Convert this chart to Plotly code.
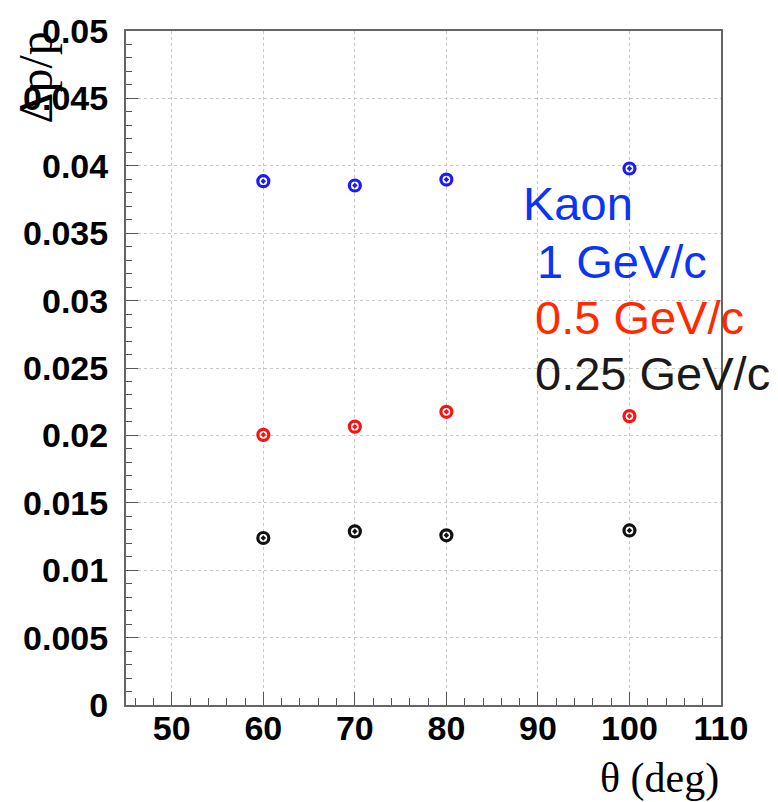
import plotly.graph_objects as go

theta = [60, 70, 80, 100]
dp_1gev = [0.03886, 0.03854, 0.03898, 0.0398]
dp_05gev = [0.02004, 0.02065, 0.02175, 0.02143]
dp_025gev = [0.01239, 0.01288, 0.01259, 0.01295]

series = [
    ("1 GeV/c", dp_1gev, "#1a1aff"),
    ("0.5 GeV/c", dp_05gev, "#ff1010"),
    ("0.25 GeV/c", dp_025gev, "#111111"),
]

W, H = 778, 802
L, R, T, B = 126, 57, 23, 97
PW, PH = W - L - R, H - T - B

def px(x):
    return (x - L) / PW

def py(y):
    return (H - B - y) / PH

fig = go.Figure()
for name, vals, col in series:
    fig.add_trace(go.Scatter(
        x=theta, y=vals, mode="markers", name=name,
        marker=dict(symbol="circle-open-dot", size=11, color=col,
                    line=dict(width=3.2, color=col)),
        showlegend=False,
    ))

axis_common = dict(
    showline=True, linecolor="#666666", linewidth=2, mirror=True,
    ticks="inside", tickcolor="#555555", tickwidth=1,
    showgrid=True, gridcolor="#c8c8c8", griddash="dot", gridwidth=1,
    zeroline=False,
    tickfont=dict(family="Liberation Sans", size=34, color="#000000", weight="bold"),
)

fig.update_xaxes(range=[45, 110], dtick=10, tick0=50, ticklen=13,
                 minor=dict(ticks="inside", ticklen=7, dtick=2, tick0=50,
                            tickcolor="#555555", showgrid=False),
                 ticklabelstandoff=-8,
                 **axis_common)
fig.update_yaxes(range=[0, 0.05], dtick=0.005, ticklen=12,
                 tickformat="~g",
                 minor=dict(ticks="inside", ticklen=6, dtick=0.001,
                            tickcolor="#555555", showgrid=False),
                 ticklabelstandoff=9,
                 **axis_common)

annos = [
    dict(text="Kaon", x=px(521), y=py(198), color="#0a35f5"),
    dict(text="1 GeV/c", x=px(535), y=py(256), color="#0a35f5"),
    dict(text="0.5 GeV/c", x=px(533), y=py(313), color="#ff2a00"),
    dict(text="0.25 GeV/c", x=px(533), y=py(370), color="#1a1a1a"),
]
for a in annos:
    fig.add_annotation(text=a["text"], x=a["x"], y=a["y"], xref="paper", yref="paper",
                       xanchor="left", yanchor="middle", showarrow=False,
                       font=dict(family="Liberation Sans", size=47, color=a["color"]))

fig.add_annotation(text="θ (deg)", x=px(721), y=py(779), xref="paper", yref="paper",
                   xanchor="right", yanchor="middle", showarrow=False,
                   font=dict(family="Liberation Serif", size=42, color="#000000"))
fig.add_annotation(text="Δp/p", x=px(35), y=py(70), xref="paper", yref="paper",
                   xanchor="center", yanchor="middle", showarrow=False, textangle=-90,
                   font=dict(family="Liberation Serif", size=48, color="#000000"))

fig.update_layout(
    width=W, height=H,
    margin=dict(l=L, r=R, t=T, b=B),
    paper_bgcolor="white", plot_bgcolor="white",
)

fig.write_html("out.html")
